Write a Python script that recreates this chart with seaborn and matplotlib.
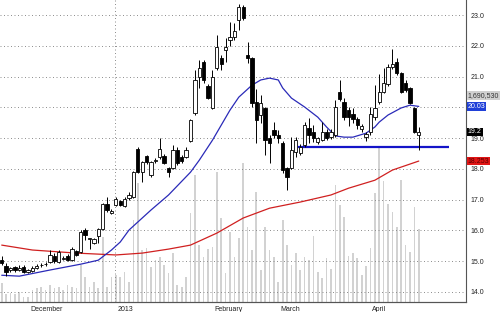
import numpy as np
import pandas as pd
import matplotlib
matplotlib.use("Agg")
import matplotlib.pyplot as plt
import matplotlib.transforms as mtransforms
import seaborn as sns

# ---------------- data ----------------
opens = [15.05, 14.84, 14.70, 14.80, 14.70, 14.82, 14.63, 14.69, 14.76, 14.86,
         14.89, 14.97, 15.16, 14.97, 15.08, 15.17, 15.03, 15.33, 15.30, 16.01,
         15.72, 15.60, 15.82, 16.03, 16.85, 16.57, 16.82, 16.94, 16.80, 17.05,
         17.08, 18.64, 17.89, 18.42, 17.80, 18.25, 18.38, 18.42, 18.02, 18.02,
         18.61, 18.38, 18.38, 18.90, 19.81, 20.98, 21.47, 20.69, 19.98, 21.28,
         21.60, 21.86, 22.19, 22.28, 22.84, 23.26, 21.70, 21.60, 20.17, 19.75,
         19.98, 19.00, 19.25, 19.10, 18.84, 18.02, 18.02, 18.55, 18.51, 18.77,
         19.33, 19.20, 18.87, 18.93, 19.20, 19.03, 19.10, 20.50, 20.17, 19.91,
         19.78, 19.62, 19.29, 19.03, 19.20, 19.68, 20.17, 20.50, 20.76, 21.31,
         21.47, 21.11, 20.79, 20.63, 19.98, 19.10]
highs = [15.15, 14.93, 14.82, 14.85, 14.86, 14.86, 14.74, 14.83, 14.92, 14.95,
         14.97, 15.35, 15.25, 15.36, 15.18, 15.22, 15.45, 15.36, 16.00, 16.07,
         15.76, 15.76, 16.08, 16.88, 17.10, 16.68, 17.10, 17.00, 17.08, 17.25,
         17.92, 18.71, 18.25, 18.45, 18.25, 18.35, 19.00, 18.48, 18.05, 18.77,
         18.70, 18.45, 18.70, 19.63, 21.20, 21.54, 21.54, 20.75, 21.20, 22.35,
         21.70, 22.25, 22.77, 22.74, 23.36, 23.33, 22.12, 21.65, 20.59, 20.40,
         20.00, 19.10, 19.52, 19.26, 18.90, 18.05, 19.03, 19.03, 18.80, 19.52,
         19.65, 19.42, 19.05, 19.52, 19.30, 19.30, 20.24, 20.89, 20.30, 20.00,
         19.98, 19.70, 19.45, 19.20, 20.00, 20.73, 21.10, 21.28, 21.40, 21.89,
         21.60, 21.15, 20.89, 20.66, 20.00, 19.36]
lows = [14.88, 14.51, 14.66, 14.66, 14.67, 14.62, 14.60, 14.66, 14.73, 14.82,
        14.85, 14.94, 14.95, 14.94, 15.03, 15.00, 15.00, 15.17, 15.27, 15.70,
        15.38, 15.55, 15.58, 16.00, 16.60, 16.52, 16.78, 16.78, 16.75, 17.00,
        17.05, 17.85, 17.57, 18.15, 17.75, 18.20, 18.33, 18.15, 17.73, 17.98,
        18.12, 18.19, 18.35, 18.87, 19.75, 20.63, 20.80, 20.27, 19.95, 21.20,
        21.20, 21.47, 22.00, 22.19, 22.51, 22.84, 21.44, 20.00, 18.84, 19.50,
        18.45, 18.19, 19.00, 18.84, 17.86, 17.31, 17.98, 18.38, 18.45, 18.70,
        18.84, 18.87, 18.80, 18.90, 18.93, 18.96, 19.03, 20.20, 19.60, 19.40,
        19.50, 19.30, 19.20, 18.90, 19.10, 19.60, 20.10, 20.45, 20.70, 21.25,
        21.05, 20.45, 20.50, 20.10, 19.15, 18.61]
closes = [14.95, 14.64, 14.77, 14.70, 14.79, 14.66, 14.70, 14.78, 14.84, 14.88,
          14.91, 15.20, 15.00, 15.29, 15.11, 15.04, 15.39, 15.20, 15.94, 15.85,
          15.75, 15.73, 16.04, 16.85, 16.65, 16.62, 17.02, 16.82, 17.02, 17.15,
          17.89, 17.89, 18.22, 18.22, 18.22, 18.30, 18.64, 18.19, 17.90, 18.61,
          18.19, 18.24, 18.61, 19.59, 20.89, 21.28, 20.89, 20.30, 21.00, 21.96,
          21.40, 21.96, 22.28, 22.48, 23.26, 22.90, 21.60, 20.14, 19.59, 20.14,
          18.93, 18.84, 19.10, 19.00, 17.96, 17.73, 18.61, 18.93, 18.70, 19.42,
          19.10, 19.00, 19.00, 19.20, 19.00, 19.20, 20.00, 20.27, 19.68, 19.68,
          19.62, 19.42, 19.39, 19.13, 19.78, 19.98, 20.50, 20.79, 21.31, 21.41,
          21.11, 20.50, 20.56, 20.14, 19.20, 19.20]
volumes_k = [209, 88, 99, 88, 110, 55, 55, 132, 154, 165,
             132, 187, 154, 165, 132, 187, 165, 154, 407, 275,
             165, 220, 154, 715, 165, 275, 297, 275, 330, 220,
             902, 1309, 572, 594, 385, 462, 495, 407, 319, 539,
             187, 165, 275, 979, 1397, 627, 495, 583, 605, 1430,
             924, 319, 770, 495, 704, 1529, 825, 572, 1210, 352,
             825, 572, 495, 220, 902, 627, 407, 539, 352, 495,
             462, 726, 330, 264, 484, 363, 1287, 1067, 935, 506,
             539, 484, 297, 396, 594, 1199, 1690.53, 1331, 1078, 990,
             825, 1342, 627, 550, 1045, 803]

ma20_idx = [0, 4, 11, 18, 22, 25, 27, 29, 34, 38, 43, 45, 48, 52, 54, 57, 59,
            61, 63, 64, 66, 69, 72, 74, 76, 78, 80, 83, 85, 86, 88, 91, 93, 95]
ma20_val = [14.54, 14.51, 14.71, 14.90, 15.03, 15.36, 15.62, 16.01, 16.66,
            17.15, 17.89, 18.28, 18.93, 19.91, 20.33, 20.72, 20.89, 20.95,
            20.89, 20.63, 20.30, 20.01, 19.68, 19.36, 19.07, 19.03, 19.03,
            19.16, 19.36, 19.52, 19.75, 19.98, 20.07, 20.03]
ma_long_idx = [0, 7, 17, 26, 32, 38, 43, 49, 55, 61, 68, 75, 79, 85, 89, 95]
ma_long_val = [15.52, 15.36, 15.26, 15.20, 15.26, 15.39, 15.52, 15.91, 16.40,
               16.72, 16.92, 17.15, 17.37, 17.63, 17.96, 18.253]

support_level = 18.71
support_from, support_to = 67.5, 102

month_pos = [6, 26, 48, 63, 84]
month_labels = ["December", "2013", "February", "March", "April"]
year_pos = 26
price_ticks = [14, 15, 16, 17, 18, 19, 20, 21, 22, 23]

# ---------------- style ----------------
sns.set_style("white")
plt.rcParams["font.family"] = ["Liberation Sans", "DejaVu Sans"]

n = len(closes)
idx = np.arange(n)
df = pd.DataFrame({"i": idx, "open": opens, "high": highs, "low": lows,
                   "close": closes, "volume": volumes_k})
ma20 = pd.DataFrame({"i": ma20_idx, "v": ma20_val})
malong = pd.DataFrame({"i": ma_long_idx, "v": ma_long_val})

fig = plt.figure(figsize=(5, 3.12), dpi=100)
ax = fig.add_axes([0, 10 / 312, 466 / 500, 302 / 312])
axp = ax.twinx()
ax.set_zorder(1)
axp.set_zorder(2)
axp.patch.set_visible(False)

# volume
ax.bar(df["i"], df["volume"], width=0.38, color="#d2d2d2", linewidth=0)
ax.set_ylim(0, 3322)
ax.yaxis.set_visible(False)

# grid
for p in price_ticks:
    axp.axhline(p, color="#8c8c8c", lw=0.7, ls=(0, (1, 2.6)), zorder=0)
axp.axvline(year_pos - 0.2, color="#8c8c8c", lw=0.7, ls=(0, (1, 2.6)), zorder=0)

# moving averages
sns.lineplot(data=malong, x="i", y="v", ax=axp, color="#d02020", lw=0.9,
             legend=False, zorder=3)
sns.lineplot(data=ma20, x="i", y="v", ax=axp, color="#2a2ab8", lw=0.9,
             legend=False, zorder=3)

# support line
axp.hlines(support_level, support_from, support_to, color="#1414c8", lw=1.6,
           zorder=4)

# candles
up = df["close"] >= df["open"]
axp.vlines(df["i"], df["low"], df["high"], color="black", lw=0.7, zorder=5)
body_lo = np.minimum(df["open"], df["close"])
body_h = np.maximum(np.abs(df["close"] - df["open"]), 0.02)
axp.bar(df["i"], body_h, bottom=body_lo, width=0.75,
        color=np.where(up, "white", "black"), edgecolor="black",
        linewidth=0.6, zorder=6)

axp.set_xlim(-0.39, 105.76)
axp.set_ylim(13.67, 23.49)
axp.set_ylabel("")
axp.set_xlabel("")
ax.set_xlabel("")

# price ticks on the right
axp.set_yticks(price_ticks)
axp.set_yticklabels([f"{p:.1f}" for p in price_ticks])
axp.tick_params(axis="y", length=0, pad=3.2, labelsize=5, labelcolor="#222222")

# month ticks
ax.set_xticks(month_pos)
ax.set_xticklabels(month_labels)
ax.tick_params(axis="x", direction="out", length=2.5, width=0.6, pad=0.2,
               labelsize=5, color="#333333", labelcolor="#222222")
offset = mtransforms.ScaledTranslation(2 / 100, 0, fig.dpi_scale_trans)
for lab in ax.get_xticklabels():
    lab.set_horizontalalignment("left")
    lab.set_transform(lab.get_transform() + offset)
axp.tick_params(axis="x", length=0, labelbottom=False)

for a in (ax, axp):
    a.spines["top"].set_visible(False)
    a.spines["left"].set_visible(False)
    a.spines["right"].set_color("#555555")
    a.spines["bottom"].set_color("#555555")
    a.spines["right"].set_linewidth(0.8)
    a.spines["bottom"].set_linewidth(0.8)
ax.spines["right"].set_visible(False)


# value tags on the right
def tag(y, text, fc, tc):
    axp.text(1.004, y, text, transform=axp.get_yaxis_transform(), ha="left",
             va="center", fontsize=5, color=tc, clip_on=False, zorder=20,
             bbox=dict(boxstyle="square,pad=0.12", fc=fc, ec="none"))


tag(ma20_val[-1] + 0.36, f"{max(volumes_k) * 1000:,.0f}", "#d0d0d0", "#333333")
tag(ma20_val[-1], f"{ma20_val[-1]:.2f}", "#2040d8", "white")
tag(closes[-1], f"{closes[-1]:g}", "black", "white")
tag(ma_long_val[-1], f"{ma_long_val[-1]:.3f}", "#e01515", "#5a0000")

fig.savefig("out.png", dpi=100, facecolor="white")
